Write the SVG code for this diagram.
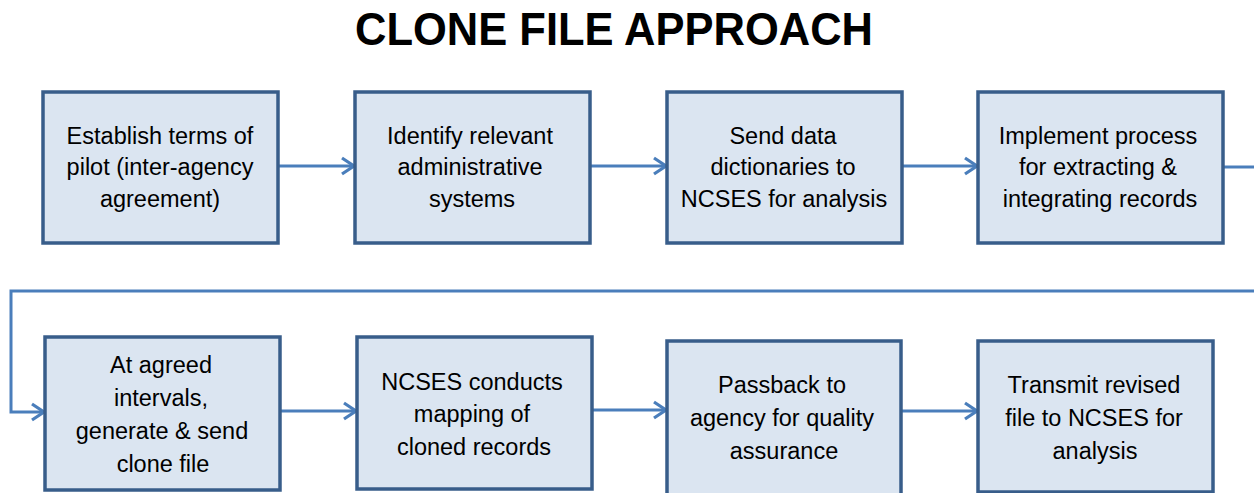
<svg xmlns="http://www.w3.org/2000/svg" width="1254" height="493" viewBox="0 0 1254 493">
<style>
.box{fill:#dbe5f1;stroke:#385d8a;stroke-width:3.5}
.t{font-family:"Liberation Sans",Arial,sans-serif;font-size:23.5px;fill:#000;text-anchor:middle}
.title{font-family:"Liberation Sans",Arial,sans-serif;font-size:46px;font-weight:bold;fill:#000;text-anchor:middle}
.c{fill:none;stroke:#4a7ebb;stroke-width:3}
</style>
<defs>
<marker id="arr" markerUnits="userSpaceOnUse" markerWidth="18" markerHeight="22" refX="14" refY="10" orient="auto">
<path d="M2,2 L14,10 L2,18" fill="none" stroke="#4a7ebb" stroke-width="3.2"/>
</marker>
</defs>
<rect width="1254" height="493" fill="#fff"/>
<text class="title" x="614" y="45" textLength="518" lengthAdjust="spacingAndGlyphs">CLONE FILE APPROACH</text>
<g id="connectors">
<line class="c" x1="279" y1="166" x2="354" y2="166" marker-end="url(#arr)"/>
<line class="c" x1="591" y1="166" x2="666" y2="166" marker-end="url(#arr)"/>
<line class="c" x1="903" y1="166" x2="977" y2="166" marker-end="url(#arr)"/>
<line class="c" x1="1224" y1="167" x2="1254" y2="167"/>
<polyline class="c" points="1254,291 11,291 11,412 44,412" marker-end="url(#arr)"/>
<line class="c" x1="281" y1="411" x2="356" y2="411" marker-end="url(#arr)"/>
<line class="c" x1="593" y1="410" x2="666" y2="410" marker-end="url(#arr)"/>
<line class="c" x1="902" y1="411" x2="977" y2="411" marker-end="url(#arr)"/>
</g>
<g id="n1">
<rect class="box" x="43" y="92" width="235" height="151"/>
<text class="t"><tspan x="160" y="144">Establish terms of</tspan><tspan x="160" y="175">pilot (inter-agency</tspan><tspan x="160" y="207">agreement)</tspan></text>
</g>
<g id="n2">
<rect class="box" x="355" y="92" width="235" height="151"/>
<text class="t"><tspan x="470" y="144">Identify relevant</tspan><tspan x="470" y="175">administrative</tspan><tspan x="472" y="207">systems</tspan></text>
</g>
<g id="n3">
<rect class="box" x="667" y="92" width="235" height="151"/>
<text class="t"><tspan x="783" y="144">Send data</tspan><tspan x="783" y="175">dictionaries to</tspan><tspan x="784" y="207">NCSES for analysis</tspan></text>
</g>
<g id="n4">
<rect class="box" x="978" y="92" width="245" height="151"/>
<text class="t"><tspan x="1098" y="144">Implement process</tspan><tspan x="1098" y="175">for extracting &amp;</tspan><tspan x="1100" y="207">integrating records</tspan></text>
</g>
<g id="n5">
<rect class="box" x="45" y="337" width="235" height="153"/>
<text class="t"><tspan x="161" y="373">At agreed</tspan><tspan x="161" y="406">intervals,</tspan><tspan x="162" y="439">generate &amp; send</tspan><tspan x="163" y="472">clone file</tspan></text>
</g>
<g id="n6">
<rect class="box" x="357" y="337" width="235" height="152"/>
<text class="t"><tspan x="472" y="390">NCSES conducts</tspan><tspan x="472" y="422">mapping of</tspan><tspan x="474" y="455">cloned records</tspan></text>
</g>
<g id="n7">
<rect class="box" x="667" y="341" width="234" height="156"/>
<text class="t"><tspan x="782" y="393">Passback to</tspan><tspan x="782" y="426">agency for quality</tspan><tspan x="784" y="459">assurance</tspan></text>
</g>
<g id="n8">
<rect class="box" x="978" y="341" width="235" height="151"/>
<text class="t"><tspan x="1094" y="393">Transmit revised</tspan><tspan x="1094" y="426">file to NCSES for</tspan><tspan x="1095" y="459">analysis</tspan></text>
</g>
</svg>
